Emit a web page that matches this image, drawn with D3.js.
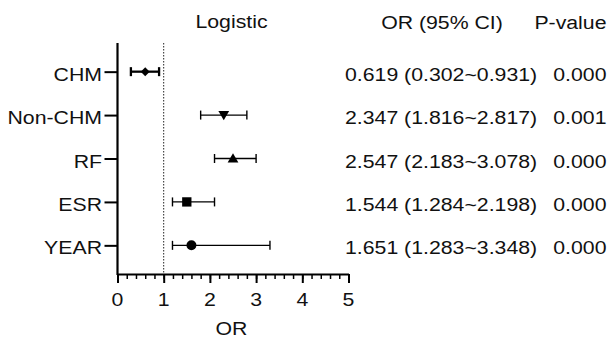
<!DOCTYPE html>
<html><head><meta charset="utf-8">
<script src="https://cdn.jsdelivr.net/npm/d3@7"></script>
<style>html,body{margin:0;padding:0;background:#fff;}svg{display:block;}</style>
</head><body>
<script>
const categories = ["CHM","Non-CHM","RF","ESR","YEAR"];
const orValues = [0.60, 2.30, 2.50, 1.50, 1.60];
const ciLow = [0.29, 1.80, 2.10, 1.19, 1.19];
const ciHigh = [0.90, 2.80, 3.00, 2.10, 3.30];
const orText = ["0.619 (0.302~0.931)","2.347 (1.816~2.817)","2.547 (2.183~3.078)","1.544 (1.284~2.198)","1.651 (1.283~3.348)"];
const pText = ["0.000","0.001","0.000","0.000","0.000"];
const markers = ["diamond","triangleDown","triangleUp","square","circle"];
const xTicks = [0,1,2,3,4,5];

const W = 614, H = 338;
const svg = d3.select("body").append("svg").attr("width", W).attr("height", H);
const FS = 19, SX = 1.12, INK = "#000";
function txt(x, y, s, anchor) {
  return svg.append("text")
    .attr("transform", `translate(${x},${y}) scale(${SX},1)`)
    .attr("text-anchor", anchor || "start")
    .attr("font-family", "'Liberation Sans', Arial, Helvetica, sans-serif")
    .attr("font-size", FS).attr("fill", "#111").text(s);
}

const x = d3.scaleLinear().domain([0,5]).range([117.5, 348.5]);
const y = d3.scalePoint().domain(categories).range([43, 274]).padding(0.66);
const yTop = 43, yBot = 274;

// reference line at OR = 1
svg.append("line").attr("x1", x(1)).attr("x2", x(1)).attr("y1", yTop).attr("y2", yBot)
  .attr("stroke", "#222").attr("stroke-width", 1).attr("stroke-dasharray", "1.5,1.5");

// minor ticks
const minor = svg.append("g").attr("transform", `translate(0,${yBot})`)
  .call(d3.axisBottom(x).tickValues(d3.range(0, 5.001, 0.2)).tickSize(5).tickFormat(""));
minor.select(".domain").remove();
minor.selectAll("line").attr("stroke", INK).attr("stroke-width", 1.5);

// major ticks
const major = svg.append("g").attr("transform", `translate(0,${yBot})`)
  .call(d3.axisBottom(x).tickValues(xTicks).tickSize(9).tickFormat("").tickSizeOuter(0));
major.select(".domain").attr("stroke", INK).attr("stroke-width", 2.2);
major.selectAll("line").attr("stroke", INK).attr("stroke-width", 2);
xTicks.forEach(t => txt(x(t), 306, String(t), "middle"));

// y axis
const ya = svg.append("g").attr("transform", `translate(${x(0)},0)`)
  .call(d3.axisLeft(y).tickSize(13).tickFormat("").tickSizeOuter(0));
ya.select(".domain").attr("stroke", INK).attr("stroke-width", 2.2)
  .attr("d", `M0,${yTop}V${yBot+1}`);
ya.selectAll("line").attr("stroke", INK).attr("stroke-width", 2);
categories.forEach(c => txt(102, y(c) + 9, c, "end"));

// error bars
categories.forEach((c, i) => {
  const cy = y(c), sw = i === 0 ? 2.3 : 1.4, g = svg.append("g").attr("stroke", INK).attr("stroke-width", sw);
  g.append("line").attr("x1", x(ciLow[i])).attr("x2", x(ciHigh[i])).attr("y1", cy).attr("y2", cy);
  g.append("line").attr("x1", x(ciLow[i])).attr("x2", x(ciLow[i])).attr("y1", cy - 4.5).attr("y2", cy + 4.5);
  g.append("line").attr("x1", x(ciHigh[i])).attr("x2", x(ciHigh[i])).attr("y1", cy - 4.5).attr("y2", cy + 4.5);
});

// markers
const symMap = {
  diamond: [d3.symbolSquare, 40, 45],
  triangleDown: [d3.symbolTriangle, 50, 180],
  triangleUp: [d3.symbolTriangle, 50, 0],
  square: [d3.symbolSquare, 87, 0],
  circle: [d3.symbolCircle, 78, 0]
};
categories.forEach((c, i) => {
  const [t, s, r] = symMap[markers[i]];
  const dy = markers[i] === "triangleDown" ? -1 : (markers[i] === "triangleUp" ? 1 : 0);
  svg.append("path").attr("d", d3.symbol().type(t).size(s)())
    .attr("transform", `translate(${x(orValues[i])},${y(c) + dy}) rotate(${r})`)
    .attr("fill", INK);
});

// titles
txt(231.5, 28, "Logistic", "middle");
txt(442, 29, "OR (95% CI)", "middle");
txt(606.5, 29, "P-value", "end");
txt(231.5, 335, "OR", "middle");

// table
categories.forEach((c, i) => {
  txt(345, y(c) + 9, orText[i], "start");
  txt(606.5, y(c) + 9, pText[i], "end");
});
</script>
</body></html>
